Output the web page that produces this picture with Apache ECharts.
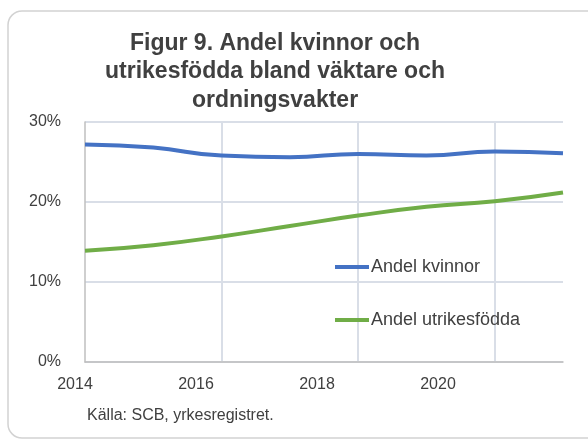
<!DOCTYPE html>
<html>
<head>
<meta charset="utf-8">
<script src="https://cdn.jsdelivr.net/npm/echarts@6/dist/echarts.min.js"></script>
<style>
  html, body { margin: 0; padding: 0; background: #fff; }
  #main { width: 588px; height: 444px; }
</style>
</head>
<body>
<div id="main"></div>
<script>
// år och andelar (%)
var years = [2014, 2015, 2016, 2017, 2018, 2019, 2020, 2021];
var kvinnor = [27.2, 26.8, 25.8, 25.6, 26.0, 25.8, 26.3, 26.1];
var utrikes = [13.9, 14.6, 15.7, 17.0, 18.3, 19.4, 20.1, 21.2];
var yTicks = [0, 10, 20, 30];
var xLabelYears = [2014, 2016, 2018, 2020];

var chart = echarts.init(document.getElementById('main'));

var font = 'Liberation Sans, Arial, sans-serif';
var gridColor = '#d9dee7';

function pairs(vals) {
  return years.map(function (y, i) { return [y, vals[i]]; });
}

chart.setOption({
  animation: false,
  textStyle: { fontFamily: font },
  graphic: [{
    type: 'rect',
    shape: { x: 8, y: 11, width: 640, height: 427, r: 14 },
    style: { fill: 'none', stroke: '#d2d2d2', lineWidth: 1.5 },
    z: -1
  }, {
    type: 'text',
    left: 87, top: 408,
    style: { text: 'Källa: SCB, yrkesregistret.', fill: '#404040', font: '16px ' + font }
  }],
  title: {
    text: 'Figur 9. Andel kvinnor och\nutrikesfödda bland väktare och\nordningsvakter',
    left: 270, textAlign: 'center', top: 24,
    textStyle: { fontSize: 23, fontWeight: 'bold', color: '#404040', lineHeight: 28.5, fontFamily: font }
  },
  legend: {
    orient: 'vertical',
    left: 335, top: 258, padding: 0,
    itemGap: 35,
    itemWidth: 34, itemHeight: 4,
    textStyle: { fontSize: 18, color: '#404040', fontFamily: font, padding: [0, 0, 0, -3] },
    data: [
      { name: 'Andel kvinnor', icon: 'rect' },
      { name: 'Andel utrikesfödda', icon: 'rect' }
    ]
  },
  grid: [
    { left: 85, right: 25, top: 122, bottom: 82 },
    // bara för årtalsetiketterna
    { left: 75, right: 150, top: 122, bottom: 82 }
  ],
  xAxis: [{
    type: 'value', gridIndex: 0,
    min: 2014, max: 2021, interval: 2,
    axisLine: { show: true, lineStyle: { color: '#bfbfbf', width: 1.5 } },
    axisTick: { show: false },
    axisLabel: { show: false },
    splitLine: { show: true, showMinLine: false, showMaxLine: false, lineStyle: { color: gridColor, width: 2 } }
  }, {
    type: 'value', gridIndex: 1,
    min: xLabelYears[0], max: xLabelYears[xLabelYears.length - 1], interval: 2,
    axisLine: { show: false },
    axisTick: { show: false },
    splitLine: { show: false },
    axisLabel: {
      fontSize: 16, color: '#404040', margin: 15, fontFamily: font,
      formatter: function (v) { return String(v); }
    }
  }],
  yAxis: [{
    type: 'value', gridIndex: 0,
    min: yTicks[0], max: yTicks[yTicks.length - 1], interval: 10,
    axisLine: { show: true, lineStyle: { color: '#bfbfbf', width: 1.5 } },
    axisTick: { show: false },
    axisLabel: { formatter: '{value}%', fontSize: 16, color: '#404040', margin: 24, fontFamily: font },
    splitLine: { show: true, lineStyle: { color: gridColor, width: 2 } }
  }, {
    type: 'value', gridIndex: 1, min: 0, max: 30, show: false
  }],
  series: [{
    name: 'Andel kvinnor',
    type: 'line', smooth: true, symbol: 'none',
    xAxisIndex: 0, yAxisIndex: 0,
    itemStyle: { color: '#4472C4' },
    lineStyle: { color: '#4472C4', width: 4 },
    data: pairs(kvinnor)
  }, {
    name: 'Andel utrikesfödda',
    type: 'line', smooth: true, symbol: 'none',
    xAxisIndex: 0, yAxisIndex: 0,
    itemStyle: { color: '#70AD47' },
    lineStyle: { color: '#70AD47', width: 4 },
    data: pairs(utrikes)
  }]
});
</script>
</body>
</html>
